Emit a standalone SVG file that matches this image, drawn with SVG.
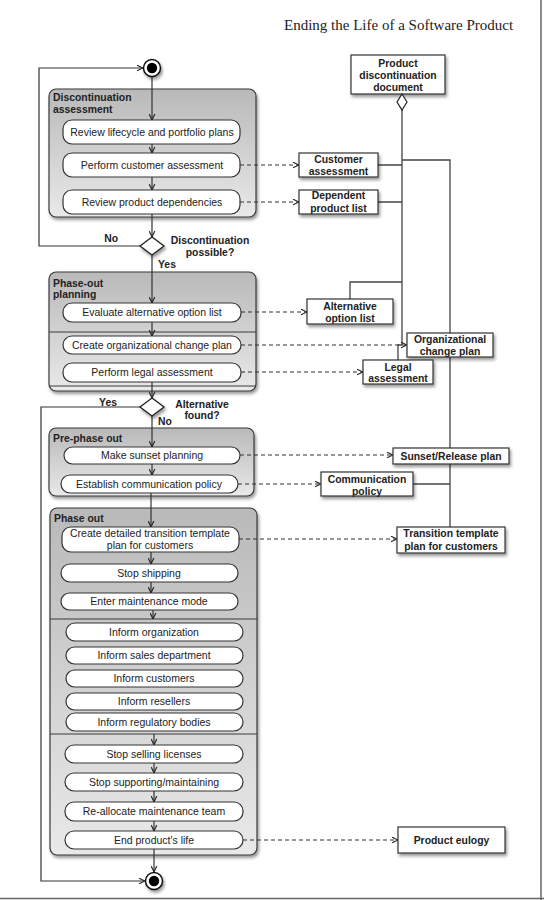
<svg xmlns="http://www.w3.org/2000/svg" width="544" height="900" viewBox="0 0 544 900">
<defs>
<linearGradient id="cg" x1="0" y1="0" x2="0" y2="1">
<stop offset="0" stop-color="#b9b9b9"/>
<stop offset="1" stop-color="#e9e9e9"/>
</linearGradient>
<filter id="sh" x="-10%" y="-10%" width="130%" height="140%">
<feDropShadow dx="1.5" dy="2.5" stdDeviation="1.8" flood-color="#000" flood-opacity="0.4"/>
</filter>
<marker id="ar" viewBox="0 0 10 10" refX="9.5" refY="5" markerWidth="7" markerHeight="7" orient="auto" markerUnits="userSpaceOnUse">
<path d="M1,1 L9.5,5 L1,9" fill="none" stroke="#222" stroke-width="1.6"/>
</marker>
</defs>
<style>
.cont{fill:url(#cg);stroke:#3a3a3a;stroke-width:1.2;filter:url(#sh)}
.act{fill:#fff;stroke:#333;stroke-width:1.2}
.obj{fill:#fff;stroke:#333;stroke-width:1.2;filter:url(#sh)}
.t{font-family:"Liberation Sans",Arial,sans-serif;font-size:10.5px;fill:#222;text-anchor:middle}
.b{font-family:"Liberation Sans",Arial,sans-serif;font-size:10.4px;font-weight:bold;fill:#222}
.bc{text-anchor:middle}
.flow{fill:none;stroke:#333;stroke-width:1.2}
.dash{fill:none;stroke:#333;stroke-width:1.1;stroke-dasharray:4,3}
.link{fill:none;stroke:#444;stroke-width:1.3}
.div{stroke:#3a3a3a;stroke-width:1}
</style>
<rect width="544" height="900" fill="#fff"/>
<text x="284" y="30" style="font-family:'Liberation Serif','Times New Roman',serif;font-size:15px;fill:#222">Ending the Life of a Software Product</text>
<line x1="541" y1="0" x2="541" y2="900" stroke="#666" stroke-width="1.5"/>
<line x1="0" y1="898.5" x2="544" y2="898.5" stroke="#666" stroke-width="1.5"/>

<g id="connectors">
<path class="link" d="M402,110 V345 M378,165 H402 M378,202 H402 M402,160 H450 V527 M350,299 V282 H402 M398,360 V345 H402 M413,484 H450"/>
</g>

<g id="discontinuation-assessment">
<rect class="cont" x="49" y="89" width="207" height="128" rx="7"/>
<text class="b" x="53" y="101">Discontinuation</text>
<text class="b" x="53" y="113">assessment</text>
</g>
<g id="phase-out-planning">
<rect class="cont" x="49" y="272" width="207" height="119" rx="7"/>
<line class="div" x1="49" y1="332" x2="256" y2="332"/>
<line class="div" x1="49" y1="386" x2="256" y2="386"/>
<text class="b" x="53" y="287">Phase-out</text>
<text class="b" x="53" y="298">planning</text>
</g>
<g id="pre-phase-out">
<rect class="cont" x="49" y="428" width="205" height="68" rx="7"/>
<text class="b" x="53" y="442">Pre-phase out</text>
</g>
<g id="phase-out">
<rect class="cont" x="50" y="508" width="207" height="347" rx="7"/>
<line class="div" x1="50" y1="619" x2="257" y2="619"/>
<line class="div" x1="50" y1="734" x2="257" y2="734"/>
<text class="b" x="54" y="522">Phase out</text>
</g>

<g id="start">
<circle cx="152" cy="68" r="8.5" fill="#fff" stroke="#111" stroke-width="1.5" filter="url(#sh)"/>
<circle cx="152" cy="68" r="5.2" fill="#000"/>
</g>
<g id="end">
<circle cx="154" cy="881" r="8.5" fill="#fff" stroke="#111" stroke-width="1.5" filter="url(#sh)"/>
<circle cx="154" cy="881" r="5.2" fill="#000"/>
</g>

<g id="flow">
<path class="flow" marker-end="url(#ar)" d="M152,77 V120"/>
<path class="flow" marker-end="url(#ar)" d="M152,144 V153"/>
<path class="flow" marker-end="url(#ar)" d="M152,177 V190"/>
<path class="flow" marker-end="url(#ar)" d="M152,214 V237"/>
<path class="flow" marker-end="url(#ar)" d="M152,255 V303"/>
<path class="flow" marker-end="url(#ar)" d="M152,322 V336"/>
<path class="flow" marker-end="url(#ar)" d="M152,382 V398"/>
<path class="flow" marker-end="url(#ar)" d="M152,416 V447"/>
<path class="flow" marker-end="url(#ar)" d="M152,464 V475"/>
<path class="flow" marker-end="url(#ar)" d="M151,493 V527"/>
<path class="flow" marker-end="url(#ar)" d="M151,552 V564"/>
<path class="flow" marker-end="url(#ar)" d="M151,582 V593"/>
<path class="flow" marker-end="url(#ar)" d="M153,610 V619"/>
<path class="flow" marker-end="url(#ar)" d="M154,734 V745"/>
<path class="flow" marker-end="url(#ar)" d="M154,763 V773"/>
<path class="flow" marker-end="url(#ar)" d="M154,791 V802"/>
<path class="flow" marker-end="url(#ar)" d="M154,821 V831"/>
<path class="flow" marker-end="url(#ar)" d="M154,849 V872"/>
<path class="flow" marker-end="url(#ar)" d="M141,246 H39 V68 H143"/>
<path class="flow" marker-end="url(#ar)" d="M141,407 H41 V881 H145"/>
<path class="dash" marker-end="url(#ar)" d="M240,165 H299"/>
<path class="dash" marker-end="url(#ar)" d="M240,202 H299"/>
<path class="dash" marker-end="url(#ar)" d="M241,312 H307"/>
<path class="dash" marker-end="url(#ar)" d="M241,345 H407"/>
<path class="dash" marker-end="url(#ar)" d="M241,372 H363"/>
<path class="dash" marker-end="url(#ar)" d="M240,455 H393"/>
<path class="dash" marker-end="url(#ar)" d="M238,484 H321"/>
<path class="dash" marker-end="url(#ar)" d="M239,539 H397"/>
<path class="dash" marker-end="url(#ar)" d="M243,840 H398"/>
</g>

<g id="a1"><rect class="act" x="63" y="120" width="177" height="24" rx="9"/><text class="t" x="152" y="135.5">Review lifecycle and portfolio plans</text></g>
<g id="a2"><rect class="act" x="63" y="153" width="177" height="24" rx="9"/><text class="t" x="152" y="168.5">Perform customer assessment</text></g>
<g id="a3"><rect class="act" x="63" y="190" width="177" height="24" rx="9"/><text class="t" x="152" y="205.5">Review product dependencies</text></g>

<g id="d1">
<path d="M152,237 L164,246 L152,255 L140,246 Z" fill="#fff" stroke="#222" stroke-width="1.3" filter="url(#sh)"/>
<text class="b" x="118" y="242" text-anchor="end">No</text>
<text class="b bc" x="210" y="243.5">Discontinuation</text>
<text class="b bc" x="210" y="255.5">possible?</text>
<text class="b" x="158" y="268">Yes</text>
</g>

<g id="a4"><rect class="act" x="63" y="303" width="178" height="19" rx="9"/><text class="t" x="152" y="316">Evaluate alternative option list</text></g>
<g id="a5"><rect class="act" x="63" y="336" width="178" height="18" rx="9"/><text class="t" x="152" y="348.5">Create organizational change plan</text></g>
<g id="a6"><rect class="act" x="63" y="363" width="178" height="19" rx="9"/><text class="t" x="152" y="376">Perform legal assessment</text></g>

<g id="d2">
<path d="M152,398 L164,407 L152,416 L140,407 Z" fill="#fff" stroke="#222" stroke-width="1.3" filter="url(#sh)"/>
<text class="b" x="117" y="405.5" text-anchor="end">Yes</text>
<text class="b" x="158" y="424.5">No</text>
<text class="b bc" x="202" y="407.5">Alternative</text>
<text class="b bc" x="202" y="418.5">found?</text>
</g>

<g id="a7"><rect class="act" x="64" y="447" width="176" height="17" rx="8.5"/><text class="t" x="152" y="459">Make sunset planning</text></g>
<g id="a8"><rect class="act" x="61" y="475" width="177" height="18" rx="9"/><text class="t" x="149" y="487.5">Establish communication policy</text></g>
<g id="a9"><rect class="act" x="62" y="527" width="177" height="25" rx="9"/><text class="t" x="150" y="537">Create detailed transition template</text><text class="t" x="150" y="549">plan for customers</text></g>
<g id="a10"><rect class="act" x="61" y="564" width="177" height="18" rx="9"/><text class="t" x="149" y="576.5">Stop shipping</text></g>
<g id="a11"><rect class="act" x="61" y="593" width="177" height="17" rx="8.5"/><text class="t" x="149" y="605">Enter maintenance mode</text></g>
<g id="a12"><rect class="act" x="66" y="623" width="177" height="18" rx="9"/><text class="t" x="154" y="635.5">Inform organization</text></g>
<g id="a13"><rect class="act" x="66" y="647" width="177" height="17" rx="8.5"/><text class="t" x="154" y="659">Inform sales department</text></g>
<g id="a14"><rect class="act" x="66" y="670" width="177" height="17" rx="8.5"/><text class="t" x="154" y="682">Inform customers</text></g>
<g id="a15"><rect class="act" x="66" y="693" width="177" height="17" rx="8.5"/><text class="t" x="154" y="705">Inform resellers</text></g>
<g id="a16"><rect class="act" x="66" y="713" width="177" height="18" rx="9"/><text class="t" x="154" y="725.5">Inform regulatory bodies</text></g>
<g id="a17"><rect class="act" x="65" y="745" width="178" height="18" rx="9"/><text class="t" x="154" y="757.5">Stop selling licenses</text></g>
<g id="a18"><rect class="act" x="65" y="773" width="178" height="18" rx="9"/><text class="t" x="154" y="785.5">Stop supporting/maintaining</text></g>
<g id="a19"><rect class="act" x="65" y="802" width="178" height="19" rx="9"/><text class="t" x="154" y="815">Re-allocate maintenance team</text></g>
<g id="a20"><rect class="act" x="65" y="831" width="178" height="18" rx="9"/><text class="t" x="154" y="843.5">End product's life</text></g>

<g id="o-doc">
<rect class="obj" x="351" y="55" width="94" height="39"/>
<text class="b bc" x="398" y="66.5">Product</text>
<text class="b bc" x="398" y="78.5">discontinuation</text>
<text class="b bc" x="398" y="90.5">document</text>
<path d="M402,94 L407,102 L402,110 L397,102 Z" fill="#fff" stroke="#222" stroke-width="1.2"/>
</g>
<g id="o-cust"><rect class="obj" x="299" y="153" width="79" height="24"/><text class="b bc" x="338.5" y="162.5">Customer</text><text class="b bc" x="338.5" y="174.5">assessment</text></g>
<g id="o-dep"><rect class="obj" x="299" y="190" width="79" height="24"/><text class="b bc" x="338.5" y="199">Dependent</text><text class="b bc" x="338.5" y="211.5">product list</text></g>
<g id="o-alt"><rect class="obj" x="307" y="299" width="86" height="25"/><text class="b bc" x="350" y="309.5">Alternative</text><text class="b bc" x="350" y="321.5">option list</text></g>
<g id="o-org"><rect class="obj" x="407" y="333" width="86" height="24"/><text class="b bc" x="450" y="342.5">Organizational</text><text class="b bc" x="450" y="354.5">change plan</text></g>
<g id="o-legal"><rect class="obj" x="363" y="360" width="70" height="24"/><text class="b bc" x="398" y="370.5">Legal</text><text class="b bc" x="398" y="382">assessment</text></g>
<g id="o-sunset"><rect class="obj" x="393" y="448" width="116" height="16"/><text class="b bc" x="451" y="459.5">Sunset/Release plan</text></g>
<g id="o-comm"><rect class="obj" x="321" y="472" width="92" height="24"/><text class="b bc" x="367" y="482.5">Communication</text><text class="b bc" x="367" y="494.5">policy</text></g>
<g id="o-trans"><rect class="obj" x="397" y="527" width="108" height="26"/><text class="b bc" x="451" y="537">Transition template</text><text class="b bc" x="451" y="549.5">plan for customers</text></g>
<g id="o-eulogy"><rect class="obj" x="398" y="827" width="107" height="26"/><text class="b bc" x="451.5" y="843.5">Product eulogy</text></g>
</svg>
